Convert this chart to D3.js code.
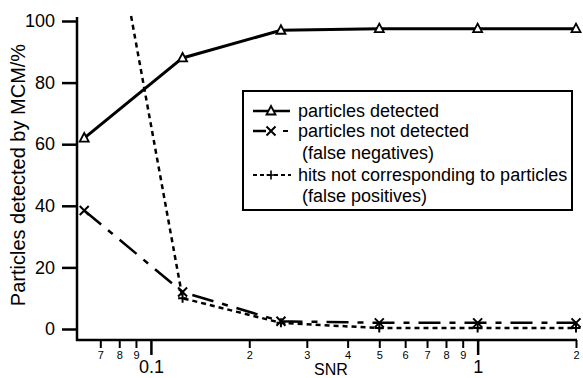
<!DOCTYPE html>
<html><head><meta charset="utf-8">
<script src="https://cdn.jsdelivr.net/npm/d3@7/dist/d3.min.js"></script>
<style>
html,body{margin:0;padding:0;background:#fff;}
text{font-family:"Liberation Sans",Arial,Helvetica,sans-serif;fill:#000;}
</style></head>
<body><svg id="c" width="583" height="378"></svg>
<script>
const snr = [0.0625, 0.125, 0.25, 0.5, 1, 2];
const detected = [62, 88, 97, 97.5, 97.5, 97.5];
const notDetected = [38.5, 12, 2.5, 2, 2, 2];
const falsePositives = [185, 10, 2, 0.3, 0.3, 0.3];
const yTicks = [0, 20, 40, 60, 80, 100];
const xMajor = [0.1, 1];
const xMajorLabels = ["0.1", "1"];
const xMinor = [0.07, 0.08, 0.09, 0.2, 0.3, 0.4, 0.5, 0.6, 0.7, 0.8, 0.9, 2];
const xMinorLabels = ["7", "8", "9", "2", "3", "4", "5", "6", "7", "8", "9", "2"];
const legendItems = [
  {label: "particles detected", sub: null},
  {label: "particles not detected", sub: "(false negatives)"},
  {label: "hits not corresponding to particles", sub: "(false positives)"}
];

const svg = d3.select("#c");
const x = d3.scaleLog().domain([0.0594, 2]).range([77, 576]);
const y = d3.scaleLinear().domain([0, 100]).range([329, 21]);
const axisY = 340;

svg.append("defs").append("clipPath").attr("id","clip")
  .append("rect").attr("x",77).attr("y",15).attr("width",510).attr("height",330);

// Y axis
const ya = svg.append("g").attr("transform","translate(77,0)")
  .call(d3.axisLeft(y).tickValues(yTicks).tickSize(15).tickPadding(7).tickSizeOuter(0));
ya.select(".domain").remove();
ya.selectAll(".tick line").attr("stroke","#000").attr("stroke-width",2.5);
ya.selectAll(".tick text").attr("font-size",18).attr("font-family","Liberation Sans, Arial");
svg.append("line").attr("x1",77).attr("x2",77).attr("y1",17).attr("y2",axisY+1)
  .attr("stroke","#000").attr("stroke-width",2.5);

// X axis
svg.append("line").attr("x1",76).attr("x2",577).attr("y1",axisY).attr("y2",axisY)
  .attr("stroke","#000").attr("stroke-width",2.5);
const xmin = svg.append("g").attr("transform",`translate(0,${axisY})`)
  .call(d3.axisBottom(x).tickValues(xMinor).tickSize(8).tickPadding(3)
    .tickFormat((d,i) => xMinorLabels[i]).tickSizeOuter(0));
xmin.select(".domain").remove();
xmin.selectAll(".tick line").attr("stroke","#000").attr("stroke-width",2);
xmin.selectAll(".tick text").attr("font-size",11).attr("font-family","Liberation Sans, Arial");
const xmaj = svg.append("g").attr("transform",`translate(0,${axisY})`)
  .call(d3.axisBottom(x).tickValues(xMajor).tickSize(15).tickPadding(5)
    .tickFormat((d,i) => xMajorLabels[i]).tickSizeOuter(0));
xmaj.select(".domain").remove();
xmaj.selectAll(".tick line").attr("stroke","#000").attr("stroke-width",2.5);
xmaj.selectAll(".tick text").attr("font-size",18).attr("font-family","Liberation Sans, Arial");

svg.append("text").attr("x",331).attr("y",375).attr("text-anchor","middle")
  .attr("font-size",16).text("SNR");
svg.append("text").attr("transform","translate(25,175) rotate(-90)").attr("text-anchor","middle")
  .attr("font-size",20).text("Particles detected by MCM/%");

// lines
const plot = svg.append("g").attr("clip-path","url(#clip)");
function mkLine(vals){ return d3.line().x((d,i)=>x(snr[i])).y(d=>y(d))(vals); }
plot.append("path").attr("d",mkLine(falsePositives)).attr("fill","none")
  .attr("stroke","#000").attr("stroke-width",2.5).attr("stroke-dasharray","5,4");
plot.append("path").attr("d",mkLine(notDetected)).attr("fill","none")
  .attr("stroke","#000").attr("stroke-width",2.5).attr("stroke-dasharray","22,9,6,9");
plot.append("path").attr("d",mkLine(detected)).attr("fill","none")
  .attr("stroke","#000").attr("stroke-width",3);

function triPath(cx,cy){return `M${cx},${cy-5}L${cx+4.5},${cy+3.5}L${cx-4.5},${cy+3.5}Z`;}
function xPath(cx,cy){const r=4.5;return `M${cx-r},${cy-r}L${cx+r},${cy+r}M${cx-r},${cy+r}L${cx+r},${cy-r}`;}
function plusPath(cx,cy){const r=4.5;return `M${cx-r},${cy}L${cx+r},${cy}M${cx},${cy-r}L${cx},${cy+r}`;}

plot.selectAll(".fp").data(falsePositives).join("path").attr("class","fp")
  .attr("d",(d,i)=>plusPath(x(snr[i]),y(d))).attr("stroke","#000").attr("stroke-width",2);
plot.selectAll(".nd").data(notDetected).join("path").attr("class","nd")
  .attr("d",(d,i)=>xPath(x(snr[i]),y(d))).attr("stroke","#000").attr("stroke-width",2);
plot.selectAll(".dt").data(detected).join("path").attr("class","dt")
  .attr("d",(d,i)=>triPath(x(snr[i]),y(d))).attr("fill","#fff").attr("stroke","#000").attr("stroke-width",1.8);

// legend
const lg = svg.append("g");
lg.append("rect").attr("x",243).attr("y",91).attr("width",329).attr("height",119)
  .attr("fill","#fff").attr("stroke","#000").attr("stroke-width",2);
const rows = [111, 131, 175];
const subs = [null, 153, 196];
lg.append("line").attr("x1",253).attr("x2",290).attr("y1",rows[0]).attr("y2",rows[0]).attr("stroke","#000").attr("stroke-width",2.5);
lg.append("path").attr("d",triPath(271,rows[0])).attr("fill","#fff").attr("stroke","#000").attr("stroke-width",1.8);
lg.append("line").attr("x1",253).attr("x2",266).attr("y1",rows[1]).attr("y2",rows[1]).attr("stroke","#000").attr("stroke-width",2.5);
lg.append("path").attr("d",xPath(271,rows[1])).attr("stroke","#000").attr("stroke-width",2);
lg.append("line").attr("x1",283).attr("x2",288).attr("y1",rows[1]).attr("y2",rows[1]).attr("stroke","#000").attr("stroke-width",2);
lg.append("line").attr("x1",253).attr("x2",291).attr("y1",rows[2]).attr("y2",rows[2]).attr("stroke","#000").attr("stroke-width",2).attr("stroke-dasharray","4,3");
lg.append("path").attr("d",plusPath(271,rows[2])).attr("stroke","#000").attr("stroke-width",1.6);
legendItems.forEach((it,i)=>{
  lg.append("text").attr("x",298).attr("y",rows[i]+6).attr("font-size",18).text(it.label);
  if(it.sub) lg.append("text").attr("x",302).attr("y",subs[i]+6).attr("font-size",18).text(it.sub);
});
</script></body></html>
